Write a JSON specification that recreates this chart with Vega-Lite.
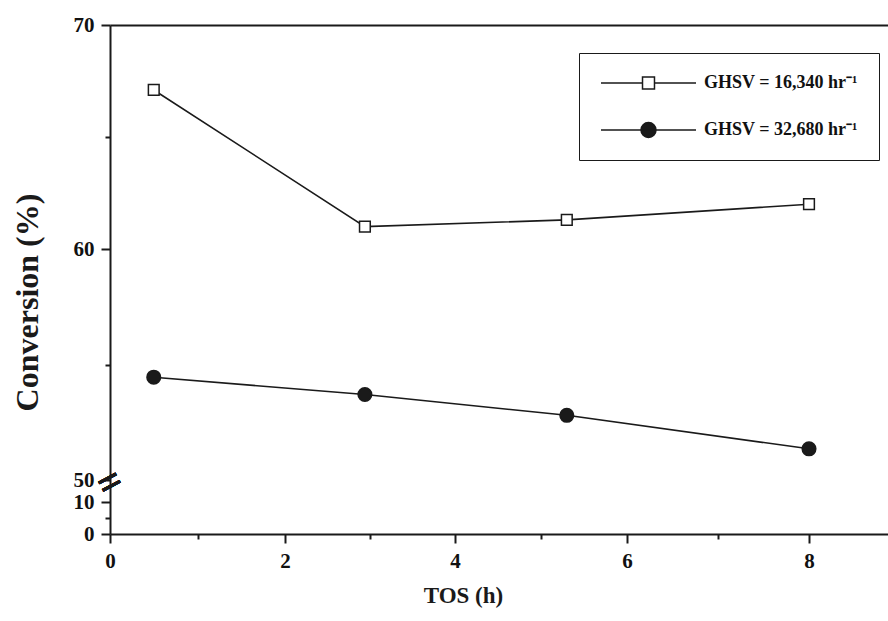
{
  "$schema": "https://vega.github.io/schema/vega-lite/v6.json",
  "width": 778,
  "height": 509,
  "autosize": {"type": "none"},
  "padding": {"left": 110, "top": 25, "right": 0, "bottom": 87},
  "background": "white",
  "config": {"view": {"stroke": null}, "font": "Liberation Serif"},
  "data": {
    "values": [
      {"series": "GHSV = 16,340 hr⁻¹", "tos": 0.5, "conversion": 67.1},
      {"series": "GHSV = 16,340 hr⁻¹", "tos": 2.94, "conversion": 61.0},
      {"series": "GHSV = 16,340 hr⁻¹", "tos": 5.3, "conversion": 61.3},
      {"series": "GHSV = 16,340 hr⁻¹", "tos": 8.0, "conversion": 62.0},
      {"series": "GHSV = 32,680 hr⁻¹", "tos": 0.5, "conversion": 54.45},
      {"series": "GHSV = 32,680 hr⁻¹", "tos": 2.94, "conversion": 53.7},
      {"series": "GHSV = 32,680 hr⁻¹", "tos": 5.3, "conversion": 52.8},
      {"series": "GHSV = 32,680 hr⁻¹", "tos": 8.0, "conversion": 51.35}
    ]
  },
  "resolve": {"axis": {"x": "independent"}},
  "layer": [
    {
      "mark": {"type": "line", "color": "#1a1a1a", "strokeWidth": 1.6},
      "encoding": {
        "x": {
          "field": "tos", "type": "quantitative",
          "scale": {"domain": [0, 2, 4, 6, 8, 8.9], "range": [0, 175, 345, 517, 699, 778], "nice": false, "zero": false},
          "axis": {
            "orient": "bottom",
            "values": [0, 1, 2, 3, 4, 5, 6, 7, 8],
            "labelExpr": "datum.value % 2 == 1 ? '' : datum.label",
            "tickSize": {"condition": {"test": "datum.value % 2 == 1", "value": 5}, "value": 9},
            "tickWidth": 2, "tickColor": "#1a1a1a",
            "domainWidth": 2, "domainColor": "#1a1a1a",
            "grid": false, "labelFlush": false,
            "labelFont": "Liberation Serif", "labelFontSize": 21, "labelFontWeight": "bold", "labelColor": "#111111", "labelPadding": 7,
            "title": "TOS (h)", "titleFont": "Liberation Serif", "titleFontSize": 23, "titleFontWeight": "bold", "titleColor": "#1a1a1a",
            "titleX": 353, "titleY": 68, "titleBaseline": "alphabetic", "titleAlign": "center", "titleAnchor": "start"
          }
        },
        "y": {
          "field": "conversion", "type": "quantitative",
          "scale": {"domain": [0, 10, 50, 60, 70], "range": [509, 477, 455, 224, 0], "nice": false, "zero": false},
          "axis": {
            "values": [0, 5, 10, 50, 55, 60, 65, 70],
            "labelExpr": "datum.value % 10 != 0 ? '' : datum.label",
            "tickSize": {"condition": {"test": "datum.value % 10 != 0", "value": 5}, "value": 9},
            "tickWidth": 2, "tickColor": "#1a1a1a",
            "domainWidth": 2, "domainColor": "#1a1a1a",
            "grid": false, "labelFlush": false,
            "labelFont": "Liberation Serif", "labelFontSize": 21, "labelFontWeight": "bold", "labelColor": "#111111", "labelPadding": 7,
            "title": "Conversion (%)", "titleFont": "Liberation Serif", "titleFontSize": 32, "titleFontWeight": "bold", "titleColor": "#1a1a1a",
            "titleX": -73, "titleY": 277, "titleAngle": -90, "titleBaseline": "alphabetic", "titleAlign": "center", "titleAnchor": "start"
          }
        },
        "detail": {"field": "series"}
      }
    },
    {
      "mark": {"type": "point", "filled": true, "stroke": "#1a1a1a", "strokeWidth": 1.5, "opacity": 1},
      "encoding": {
        "x": {"field": "tos", "type": "quantitative", "axis": null},
        "y": {"field": "conversion", "type": "quantitative"},
        "size": {"condition": {"test": "indexof(datum.series, '32,680') >= 0", "value": 185}, "value": 115},
        "shape": {"condition": {"test": "indexof(datum.series, '32,680') >= 0", "value": "circle"}, "value": "square"},
        "fill": {
          "field": "series", "type": "nominal",
          "scale": {"range": ["white", "#1a1a1a"]},
          "legend": {
            "orient": "none", "legendX": 469, "legendY": 28,
            "title": null, "padding": 21,
            "strokeColor": "#1a1a1a",
            "clipHeight": 18,
            "symbolType": {"expr": "indexof(datum.value, '16,340') >= 0 ? 'M-1,0H-0.126M0.126,0H1M-0.126,-0.126H0.126V0.126H-0.126Z' : 'M-1,0H1M-0.158,0A0.158,0.158,0,1,0,0.158,0A0.158,0.158,0,1,0,-0.158,0Z'"},
            "symbolSize": 9025, "symbolStrokeWidth": 1.5, "symbolStrokeColor": "#1a1a1a",
            "labelFont": "Liberation Serif", "labelFontSize": 18, "labelFontWeight": "bold", "labelColor": "#111111",
            "labelOffset": 7, "rowPadding": 29,
            "encode": {
              "legend": {"update": {"strokeWidth": {"value": 2}}}
            }
          }
        }
      }
    },
    {
      "mark": {"type": "text", "text": "=", "fontSize": 42, "fontWeight": "bold", "angle": -28, "align": "center", "baseline": "middle", "color": "#1a1a1a", "font": "Liberation Serif"},
      "encoding": {
        "x": {"datum": 0, "type": "quantitative", "axis": {"orient": "top", "labels": false, "ticks": false, "title": null, "grid": false, "domainWidth": 2, "domainColor": "#1a1a1a"}},
        "y": {"datum": 44.5, "type": "quantitative"}
      }
    }
  ]
}
